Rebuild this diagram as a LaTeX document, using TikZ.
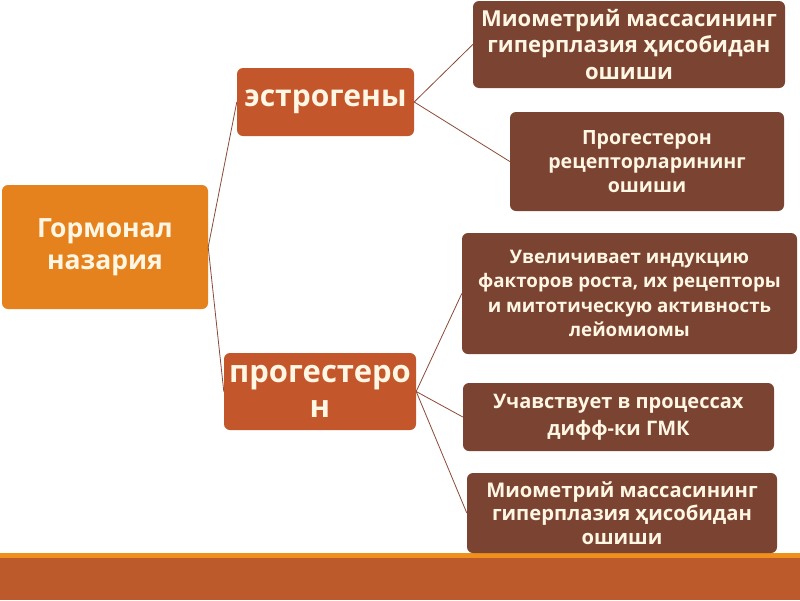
\documentclass[tikz,border=0pt]{standalone}
\usepackage{fontspec}
\setmainfont{Open Sans}[BoldFont={* Bold}]
\definecolor{rootc}{HTML}{E5821D}
\definecolor{midc}{HTML}{C4562B}
\definecolor{leafc}{HTML}{7B4331}
\definecolor{linec}{HTML}{8A4A38}
\definecolor{txtc}{HTML}{FFF6E4}
\definecolor{bandc}{HTML}{BC5A2C}
\definecolor{bandl}{HTML}{F0901C}
\newcommand{\fsz}[2]{\bfseries\fontsize{#1}{#2}\selectfont}
\begin{document}
\begin{tikzpicture}[x=1pt,y=-1pt,
  box/.style={rounded corners=6pt,draw=none,text=txtc,align=center,inner sep=0pt},
  rootbox/.style={box,fill=rootc},
  midbox/.style={box,fill=midc},
  leafbox/.style={box,fill=leafc},
  link/.style={draw=linec,line width=0.8pt}]
\useasboundingbox (0,0) rectangle (800,600);
\fill[white] (0,0) rectangle (800,600);
\fill[bandl] (0,553) rectangle (800,558);
\fill[bandc] (0,558) rectangle (800,600);
\node[rootbox,minimum width=206pt,minimum height=124pt,font=\fsz{26.5}{32}] (root) at (105,247) {Гормонал\\назария};
\node[midbox,minimum width=177pt,minimum height=68pt,font=\fsz{30}{36}] (estr) at (325.5,102) {эстрогены};
\node[midbox,minimum width=192pt,minimum height=77pt,font=\fsz{31}{35}] (prog) at (320,391.5) {прогестеро\\н};
\node[leafbox,minimum width=312pt,minimum height=87pt,font=\fsz{22}{26.5}] (e1) at (629,44.5) {Миометрий массасининг\\гиперплазия ҳисобидан\\ошиши};
\node[leafbox,minimum width=274pt,minimum height=99pt,font=\fsz{19.6}{24}] (e2) at (647,161.5) {Прогестерон\\рецепторларининг\\ошиши};
\node[leafbox,minimum width=335pt,minimum height=121pt,font=\fsz{18.7}{24.5}] (p1) at (629.5,293.5) {Увеличивает индукцию\\факторов роста, их рецепторы\\и митотическую активность\\лейомиомы};
\node[leafbox,minimum width=311pt,minimum height=68pt,font=\fsz{20}{27}] (p2) at (618.5,417) {Учавствует в процессах\\дифф-ки ГМК};
\node[leafbox,minimum width=310pt,minimum height=80pt,font=\fsz{20.2}{23.5}] (p3) at (622,513) {Миометрий массасининг\\гиперплазия ҳисобидан\\ошиши};
\draw[link] (root.east) -- (estr.west);
\draw[link] (root.east) -- (prog.west);
\draw[link] (estr.east) -- (e1.west);
\draw[link] (estr.east) -- (e2.west);
\draw[link] (prog.east) -- (p1.west);
\draw[link] (prog.east) -- (p2.west);
\draw[link] (prog.east) -- (p3.west);
\end{tikzpicture}
\end{document}
